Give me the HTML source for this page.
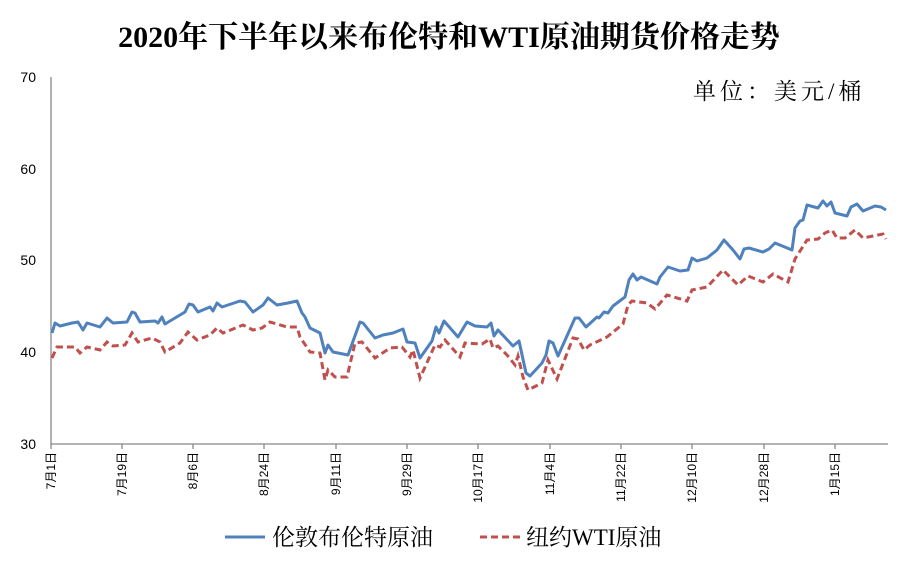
<!DOCTYPE html>
<html><head><meta charset="utf-8"><style>body{margin:0;background:#fff}svg{display:block}</style></head><body>
<svg width="907" height="573" xmlns="http://www.w3.org/2000/svg" font-family="'Liberation Serif','Noto Serif CJK SC',serif">
<text x="449" y="47" text-anchor="middle" font-size="30" font-weight="bold">2020年下半年以来布伦特和WTI原油期货价格走势</text>
<text x="693" y="99" font-size="23" letter-spacing="4">单位：美元/桶</text>
<g font-family="'Liberation Sans',sans-serif" font-size="14" fill="#000" text-anchor="end">
<text x="36" y="82">70</text><text x="36" y="174">60</text><text x="36" y="265">50</text><text x="36" y="357">40</text><text x="36" y="449">30</text>
</g>
<g stroke="#888" stroke-width="1.3" fill="none">
<line x1="51" y1="77" x2="51" y2="444"/>
<line x1="51" y1="444" x2="888" y2="444"/>
<path d="M122 444v5M193 444v5M264 444v5M336 444v5M407 444v5M478 444v5M550 444v5M621 444v5M692 444v5M764 444v5M835 444v5M51 444v5"/>
</g>
<g font-family="'Liberation Sans','Noto Sans CJK SC',sans-serif" font-size="12" text-anchor="end">
<text transform="translate(55,452) rotate(-90)">7月1日</text>
<text transform="translate(126,452) rotate(-90)">7月19日</text>
<text transform="translate(197,452) rotate(-90)">8月6日</text>
<text transform="translate(268,452) rotate(-90)">8月24日</text>
<text transform="translate(340,452) rotate(-90)">9月11日</text>
<text transform="translate(411,452) rotate(-90)">9月29日</text>
<text transform="translate(482,452) rotate(-90)">10月17日</text>
<text transform="translate(554,452) rotate(-90)">11月4日</text>
<text transform="translate(625,452) rotate(-90)">11月22日</text>
<text transform="translate(696,452) rotate(-90)">12月10日</text>
<text transform="translate(768,452) rotate(-90)">12月28日</text>
<text transform="translate(839,452) rotate(-90)">1月15日</text>
</g>
<polyline fill="none" stroke="#c0504d" stroke-width="3" stroke-dasharray="7,4" points="52,358 57,347 75,347 80,353 87,347 100,350 107,342 113,346 125,345 132,333 138,342 152,338 160,342 165,352 180,343 188,332 197,340 210,335 217,328 223,333 243,325 253,330 262,328 270,322 287,327 297,327 300,337 310,352 320,353 325,380 328,370 335,377 347,377 355,343 362,342 375,358 390,348 402,347 410,357 413,350 420,378 435,345 440,347 445,340 460,357 465,343 482,344 490,339 493,348 498,346 507,355 515,365 518,356 523,377 528,390 542,383 548,360 557,379 573,338 578,339 584,350 590,345 607,337 623,324 628,305 632,301 647,303 655,309 667,295 687,301 692,290 707,287 723,270 738,285 748,276 763,282 773,274 788,282 795,259 807,240 818,239 825,233 832,230 837,238 845,238 855,230 863,238 873,236 883,234 886,239"/>
<polyline fill="none" stroke="#4f81bd" stroke-width="3" stroke-linejoin="round" points="52,333 55,323 60,326 72,323 78,322 83,330 87,323 100,327 107,318 113,323 127,322 132,312 135,313 140,322 155,321 158,323 162,317 165,324 185,312 189,304 193,305 198,312 210,307 213,311 217,303 222,307 240,301 245,302 253,312 263,305 268,298 277,305 288,303 297,301 302,313 305,317 310,328 320,333 325,353 328,345 333,352 348,355 360,322 363,323 375,338 383,335 393,333 403,329 407,342 415,343 420,358 432,341 436,327 439,333 444,321 458,337 467,322 475,326 487,327 491,323 494,336 498,330 513,346 519,341 526,373 530,376 542,363 546,355 549,341 553,343 558,356 575,318 579,318 586,327 597,317 599,318 604,312 608,313 613,306 625,297 629,280 633,274 637,280 641,277 657,284 660,277 668,267 680,271 688,270 692,258 697,261 707,258 717,250 724,240 733,250 740,259 744,249 749,248 763,252 769,249 775,243 792,250 795,228 800,221 803,220 807,205 818,208 823,201 827,206 831,202 835,213 847,216 851,207 857,204 863,211 875,206 881,207 886,210"/>
<line x1="225" y1="537" x2="265" y2="537" stroke="#4f81bd" stroke-width="3"/>
<text x="272" y="545" font-size="23">伦敦布伦特原油</text>
<line x1="480" y1="537" x2="520" y2="537" stroke="#c0504d" stroke-width="3" stroke-dasharray="7,4"/>
<text x="526" y="545" font-size="23">纽约WTI原油</text>
</svg>
</body></html>
